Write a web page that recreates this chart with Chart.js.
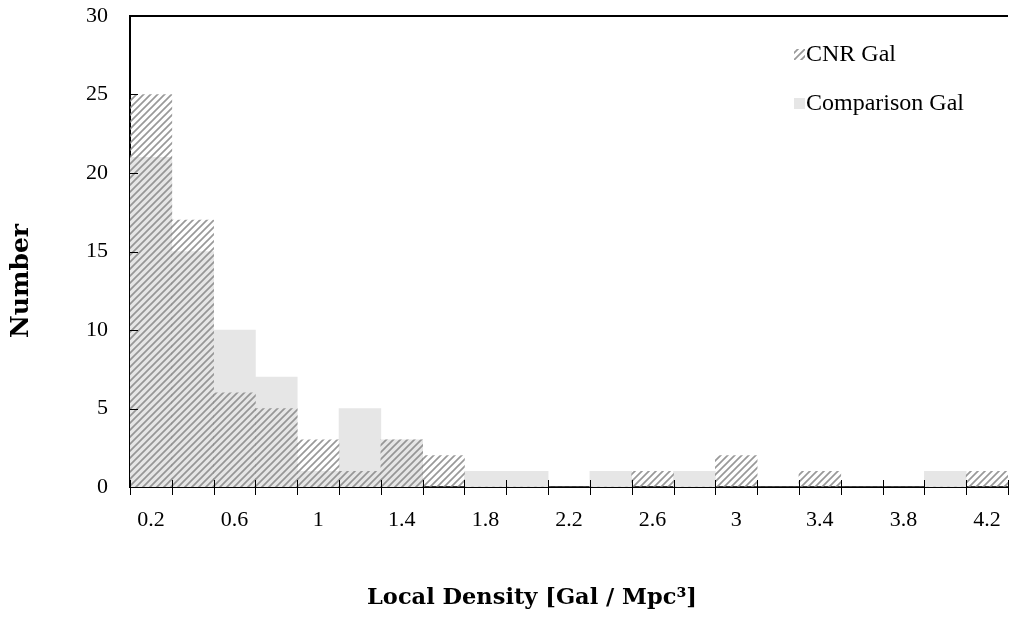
<!DOCTYPE html>
<html>
<head>
<meta charset="utf-8">
<script src="https://cdn.jsdelivr.net/npm/chart.js@4.4.1/dist/chart.umd.min.js"></script>
<style>
  html, body { margin: 0; padding: 0; background: #ffffff; }
  #wrap { width: 1009px; height: 620px; position: relative; }
</style>
</head>
<body>
<div id="wrap"><canvas id="chart" width="1009" height="620"></canvas></div>
<script>
// Histogram bins of local density (Gal / Mpc^3)
const densityBins = ['0.2', '0.4', '0.6', '0.8', '1', '1.2', '1.4', '1.6', '1.8', '2',
                     '2.2', '2.4', '2.6', '2.8', '3', '3.2', '3.4', '3.6', '3.8', '4', '4.2'];
// Galaxy counts per bin
const cnrCounts        = [25, 17, 6, 5, 3, 1, 3, 2, 0, 0, 0, 0, 1, 0, 2, 0, 1, 0, 0, 0, 1];
const comparisonCounts = [21, 15, 10, 7, 1, 5, 3, 0, 1, 1, 0, 1, 0, 1, 0, 0, 0, 0, 0, 1, 0];
// Labelled ticks on the x axis
const xTickLabels = ['0.2', '0.6', '1', '1.4', '1.8', '2.2', '2.6', '3', '3.4', '3.8', '4.2'];
// Y axis range
const yMin = 0, yMax = 30, yStep = 5;

const seriesNames = ['CNR Gal', 'Comparison Gal'];
const axisTitles = { x: 'Local Density [Gal / Mpc\u00B3]', y: 'Number' };

const SERIF = '"Liberation Serif", "Times New Roman", serif';

// Diagonal hatch fill for the CNR bars
function makeHatch() {
  const s = 7;
  const c = document.createElement('canvas');
  c.width = s; c.height = s;
  const g = c.getContext('2d');
  g.strokeStyle = 'rgba(135,135,135,0.85)';
  g.lineWidth = 1.7;
  g.beginPath();
  for (const o of [-s, 0, s]) {
    g.moveTo(o - 1, s + 1);
    g.lineTo(o + s + 1, -1);
  }
  g.stroke();
  return g.createPattern(c, 'repeat');
}
const hatch = makeHatch();
const compGray = '#e6e6e6';

// Keep the plot area fixed: no extra room for overhanging labels
function fixScale(size) {
  return s => {
    if (s.isHorizontal()) s.height = size; else s.width = size;
    s.paddingTop = 0; s.paddingBottom = 0; s.paddingLeft = 0; s.paddingRight = 0;
  };
}

// Frame, cross tick marks on both axes
const axisMarks = {
  id: 'axisMarks',
  afterDatasetsDraw(chart) {
    const { ctx, chartArea: a, scales: { x, y } } = chart;
    ctx.save();
    ctx.strokeStyle = '#000';
    // top frame line
    ctx.lineWidth = 2;
    ctx.beginPath();
    ctx.moveTo(a.left - 1, a.top);
    ctx.lineTo(a.right, a.top);
    ctx.stroke();
    ctx.lineWidth = 1;
    // x ticks at bin boundaries
    const n = densityBins.length;
    const half = (x.getPixelForTick(1) - x.getPixelForTick(0)) / 2;
    ctx.beginPath();
    for (let i = 0; i <= n; i++) {
      const px = Math.round(i < n ? x.getPixelForTick(i) - half : x.getPixelForTick(n - 1) + half) + 0.5;
      ctx.moveTo(px, a.bottom - 7);
      ctx.lineTo(px, a.bottom + 8);
    }
    // y ticks, pointing inward
    for (let v = yMin; v <= yMax; v += yStep) {
      const py = Math.round(y.getPixelForValue(v)) + 0.5;
      ctx.moveTo(a.left, py);
      ctx.lineTo(a.left + 8, py);
    }
    ctx.stroke();
    ctx.restore();
  }
};

// Axis titles
const axisTitlePlugin = {
  id: 'axisTitlePlugin',
  afterDraw(chart) {
    const { ctx } = chart;
    ctx.save();
    ctx.fillStyle = '#000';
    ctx.textAlign = 'center';
    ctx.textBaseline = 'middle';
    ctx.font = 'bold 22.5px "DejaVu Serif", serif';
    ctx.fillText(axisTitles.x, 532, 598);
    ctx.translate(21, 281);
    ctx.rotate(-Math.PI / 2);
    ctx.font = 'bold 25px "DejaVu Serif", serif';
    ctx.fillText(axisTitles.y, 0, 0);
    ctx.restore();
  }
};

// Legend in the upper right of the plot
const legendPlugin = {
  id: 'legendPlugin',
  afterDraw(chart) {
    const { ctx } = chart;
    ctx.save();
    ctx.font = '24px ' + SERIF;
    ctx.textBaseline = 'middle';
    ctx.textAlign = 'left';
    const rows = [54, 103];
    chart.data.datasets.forEach((ds, i) => {
      const cy = rows[i];
      ctx.fillStyle = ds.backgroundColor;
      ctx.fillRect(794, cy - 5, 11, 11);
      ctx.fillStyle = '#000';
      ctx.fillText(ds.label, 806, cy + 1);
    });
    ctx.restore();
  }
};

new Chart(document.getElementById('chart'), {
  type: 'bar',
  data: {
    labels: densityBins,
    datasets: [
      {
        label: seriesNames[0],
        data: cnrCounts,
        backgroundColor: hatch,
        borderWidth: 0,
        barPercentage: 1,
        categoryPercentage: 1
      },
      {
        label: seriesNames[1],
        data: comparisonCounts,
        backgroundColor: compGray,
        borderWidth: 0,
        barPercentage: 1,
        categoryPercentage: 1
      }
    ]
  },
  options: {
    responsive: false,
    animation: false,
    devicePixelRatio: 1,
    layout: { padding: { top: 16, right: 1, left: 0, bottom: 0 } },
    plugins: {
      legend: { display: false },
      tooltip: { enabled: false },
      title: { display: false }
    },
    scales: {
      x: {
        stacked: true,
        offset: true,
        grid: { display: false, drawTicks: false },
        border: { display: true, color: '#000', width: 2 },
        ticks: {
          autoSkip: false,
          maxRotation: 0,
          minRotation: 0,
          padding: 20,
          color: '#000',
          font: { family: SERIF, size: 22 },
          callback: (v, i) => xTickLabels.includes(densityBins[i]) ? densityBins[i] : ''
        },
        afterFit: fixScale(133)
      },
      y: {
        stacked: false,
        min: yMin,
        max: yMax,
        grid: { display: false, drawTicks: false },
        border: { display: true, color: '#000', width: 2 },
        ticks: {
          stepSize: yStep,
          padding: 22,
          color: '#000',
          font: { family: SERIF, size: 22 }
        },
        afterFit: fixScale(130)
      }
    }
  },
  plugins: [axisMarks, axisTitlePlugin, legendPlugin]
});
</script>
</body>
</html>
